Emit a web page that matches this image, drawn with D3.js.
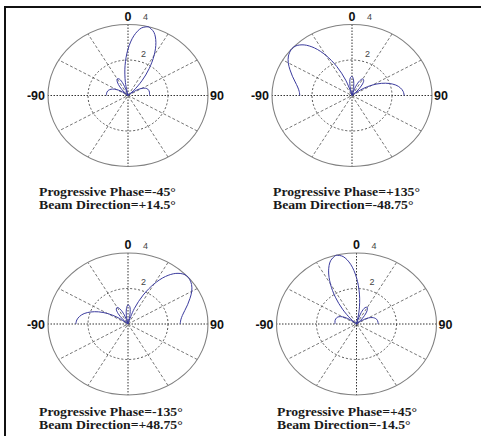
<!DOCTYPE html>
<meta charset="utf-8">
<head>
  <style>
    body { margin: 0; background: #fff; }
    .spoke { fill: none; stroke: #777; stroke-width: 1; stroke-dasharray: 3,2; }
    .axisline { fill: none; stroke: #333; stroke-width: 1; stroke-dasharray: 1.5,1.5; }
    .ring { fill: none; stroke: #555; stroke-width: 1; stroke-dasharray: 2,2; }
    .outer { fill: none; stroke: #808080; stroke-width: 1.1; }
    .pattern { fill: none; stroke: #3b3b9e; stroke-width: 1; }
    .deg { font: bold 12.5px "Liberation Sans", Arial, sans-serif; fill: #111; }
    .rlab { font: 9px "Liberation Sans", Arial, sans-serif; fill: #444; }
    .caption { font: bold 12.5px "Liberation Serif", "Times New Roman", serif; fill: #1a1a1a; }
  </style>
</head>
<body>
  <script src="https://d3js.org/d3.v7.min.js"></script>
  <script>
    // angles in degrees (0 = broadside, up on the plot), shared by all four patterns
    var angles = [-90, -85, -80, -75, -70, -65, -60, -55, -50, -48.6, -45, -40, -35, -30, -25, -20, -15, -14.5,
      -10, -5, 0, 5, 10, 14.5, 15, 20, 25, 30, 35, 40, 45, 48.6, 50, 55, 60, 65, 70, 75, 80, 85, 90];

    // array factor magnitude
    var phaseM45 = [1.08, 1.08, 1.07, 1.04, 0.97, 0.86, 0.68, 0.43, 0.10, 0, 0.27, 0.63, 0.93, 1.08, 1.02, 0.68, 0.08, 0,
      0.75, 1.69, 2.61, 3.38, 3.86, 4.00, 4.00, 3.79, 3.30, 2.61, 1.84, 1.08, 0.41, 0, 0.14, 0.54, 0.81, 0.97, 1.05, 1.08, 1.09, 1.08, 1.08];
    var phaseP135 = [2.61, 2.65, 2.76, 2.94, 3.17, 3.42, 3.68, 3.88, 3.99, 4.00, 3.96, 3.72, 3.27, 2.61, 1.80, 0.92, 0.08, 0,
      0.59, 0.99, 1.08, 0.88, 0.47, 0, 0.06, 0.55, 0.92, 1.08, 1.02, 0.77, 0.35, 0, 0.15, 0.68, 1.18, 1.62, 1.98, 2.27, 2.46, 2.57, 2.61];
    var phaseM135 = [2.61, 2.57, 2.46, 2.27, 1.98, 1.62, 1.18, 0.68, 0.15, 0, 0.35, 0.77, 1.02, 1.08, 0.92, 0.55, 0.06, 0,
      0.47, 0.88, 1.08, 0.99, 0.59, 0, 0.08, 0.92, 1.80, 2.61, 3.27, 3.72, 3.96, 4.00, 3.99, 3.88, 3.68, 3.42, 3.17, 2.94, 2.76, 2.65, 2.61];
    var phaseP45 = [1.08, 1.08, 1.09, 1.08, 1.05, 0.97, 0.81, 0.54, 0.14, 0, 0.41, 1.08, 1.84, 2.61, 3.30, 3.79, 4.00, 4.00,
      3.86, 3.38, 2.61, 1.69, 0.75, 0, 0.08, 0.68, 1.02, 1.08, 0.93, 0.63, 0.27, 0, 0.10, 0.43, 0.68, 0.86, 0.97, 1.04, 1.07, 1.08, 1.08];

    var spokeAngles = [0, 30, 60, 90, 120, 150];
    var ringTicks = [2];
    var rMax = 4;
    var captions = [
      ["Progressive Phase=-45°", "Beam Direction=+14.5°"],
      ["Progressive Phase=+135°", "Beam Direction=-48.75°"],
      ["Progressive Phase=-135°", "Beam Direction=+48.75°"],
      ["Progressive Phase=+45°", "Beam Direction=-14.5°"]
    ];

    var panels = [
      { cx: 128, cy: 95.5, values: phaseM45, tx: 39, ty: 195.5 },
      { cx: 352, cy: 95.5, values: phaseP135, tx: 273, ty: 195.5 },
      { cx: 128, cy: 324, values: phaseM135, tx: 39, ty: 415.5 },
      { cx: 356.5, cy: 324, values: phaseP45, tx: 277, ty: 415.5 }
    ];

    var rx = 80, ry = 71;

    var svg = d3.select("body").append("svg")
      .attr("width", 481)
      .attr("height", 436);

    // frame lines (top and left)
    svg.append("line").attr("x1", 4).attr("x2", 481).attr("y1", 7).attr("y2", 7)
      .attr("stroke", "#111").attr("stroke-width", 2);
    svg.append("line").attr("x1", 5).attr("x2", 5).attr("y1", 6).attr("y2", 436)
      .attr("stroke", "#111").attr("stroke-width", 2);

    var rad = Math.PI / 180;

    panels.forEach(function (p, k) {
      var x = d3.scaleLinear().domain([-rMax, rMax]).range([p.cx - rx, p.cx + rx]);
      var y = d3.scaleLinear().domain([-rMax, rMax]).range([p.cy + ry, p.cy - ry]);
      var g = svg.append("g");

      // spokes every 30 degrees
      g.selectAll(".sp")
        .data(spokeAngles)
        .enter().append("line")
        .attr("class", function (d) { return (d % 90 == 0) ? "axisline" : "spoke"; })
        .attr("x1", function (d) { return x(rMax * Math.sin(d * rad)); })
        .attr("y1", function (d) { return y(rMax * Math.cos(d * rad)); })
        .attr("x2", function (d) { return x(-rMax * Math.sin(d * rad)); })
        .attr("y2", function (d) { return y(-rMax * Math.cos(d * rad)); });

      g.selectAll(".ring")
        .data(ringTicks)
        .enter().append("ellipse")
        .attr("class", "ring")
        .attr("cx", x(0)).attr("cy", y(0))
        .attr("rx", function (d) { return x(d) - x(0); })
        .attr("ry", function (d) { return y(0) - y(d); });

      g.append("ellipse")
        .attr("class", "outer")
        .attr("cx", x(0)).attr("cy", y(0))
        .attr("rx", x(rMax) - x(0))
        .attr("ry", y(0) - y(rMax));

      // pattern
      var pts = angles.map(function (a, i) { return [a, p.values[i]]; });
      var line = d3.line()
        .x(function (d) { return x(d[1] * Math.sin(d[0] * rad)); })
        .y(function (d) { return y(d[1] * Math.cos(d[0] * rad)); })
        .curve(d3.curveCatmullRom.alpha(0.5));
      g.append("path")
        .datum(pts)
        .attr("class", "pattern")
        .attr("d", line);

      // angle labels
      g.append("text").attr("class", "deg")
        .attr("x", x(0)).attr("y", y(rMax) - 4)
        .attr("text-anchor", "middle").text("0");
      g.append("text").attr("class", "deg")
        .attr("x", x(-rMax) - 3).attr("y", y(0) + 4.5)
        .attr("text-anchor", "end").text("-90");
      g.append("text").attr("class", "deg")
        .attr("x", x(rMax) + 2).attr("y", y(0) + 4.5)
        .attr("text-anchor", "start").text("90");

      // radial tick labels
      g.append("text").attr("class", "rlab")
        .attr("x", x(0) + 15).attr("y", y(rMax) - 4.5)
        .text(rMax);
      g.append("text").attr("class", "rlab")
        .attr("x", x(0) + 13).attr("y", y(ringTicks[0]) - 3.5)
        .text(ringTicks[0]);

      // caption
      var cap = svg.append("g")
        .attr("transform", "translate(" + p.tx + "," + p.ty + ") scale(1.1,1)");
      cap.selectAll("text")
        .data(captions[k])
        .enter().append("text")
        .attr("class", "caption")
        .attr("x", 0)
        .attr("y", function (d, i) { return i * 14; })
        .text(function (d) { return d; });
    });
  </script>
</body>
